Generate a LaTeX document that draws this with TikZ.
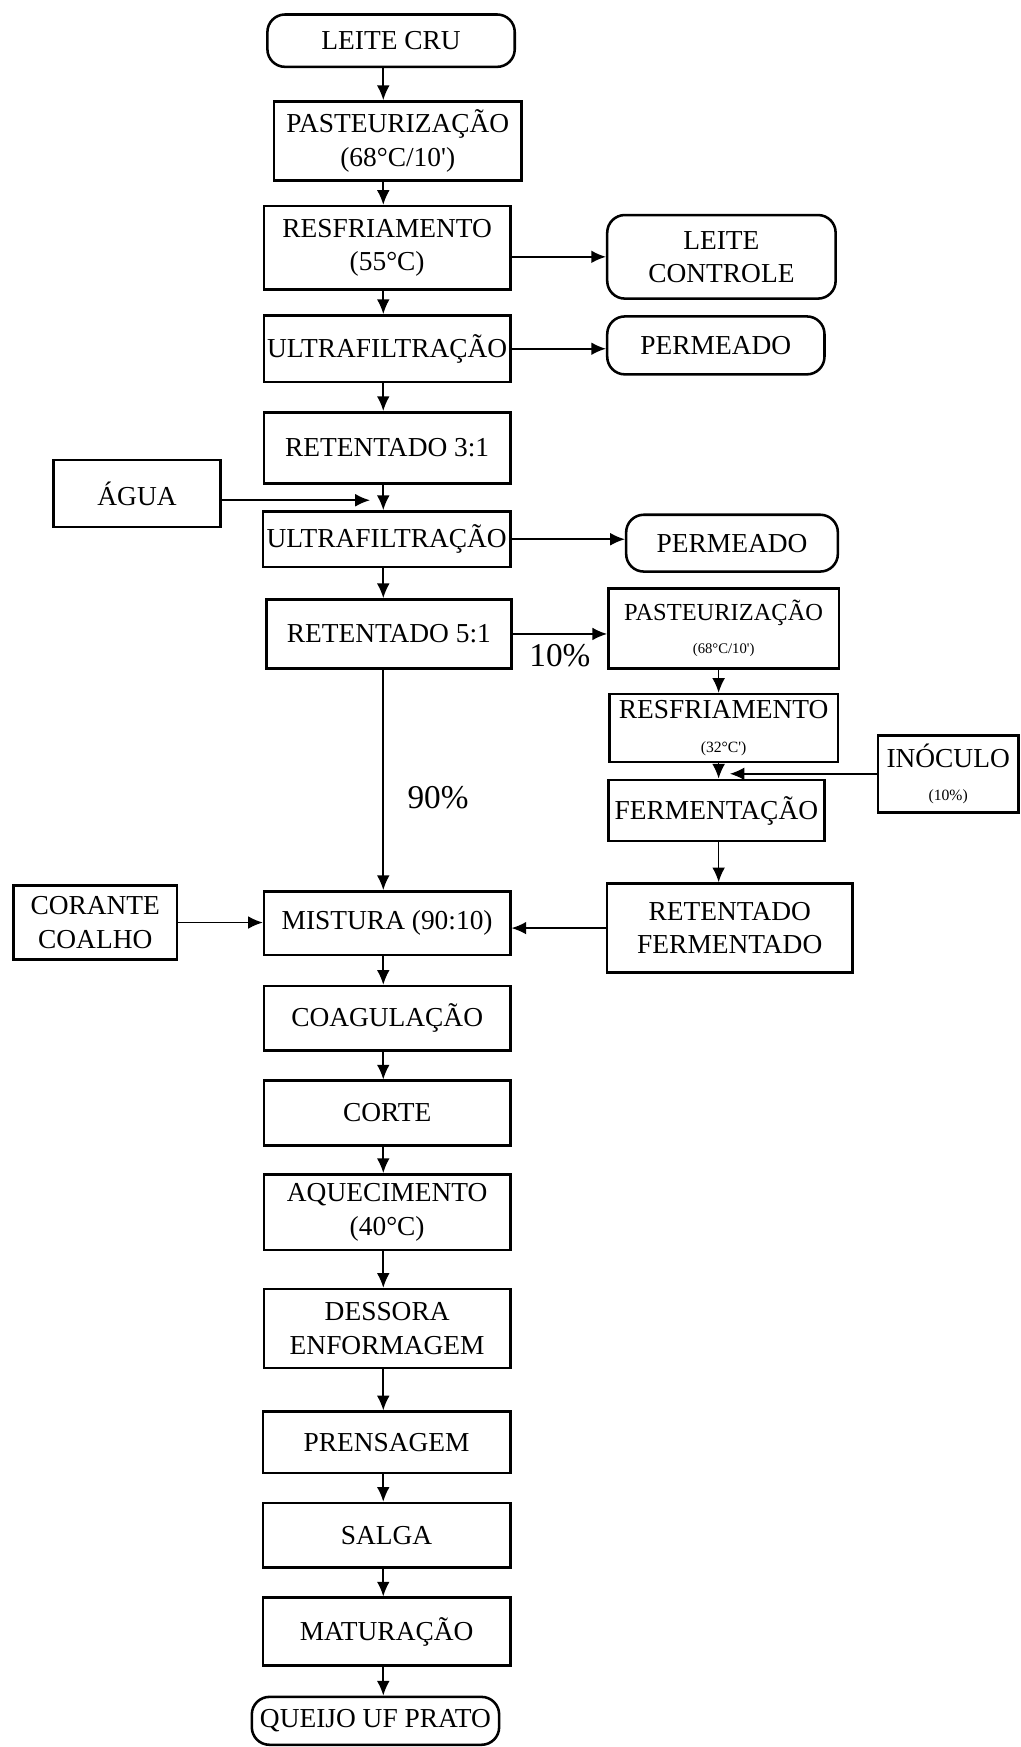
\documentclass[tikz,border=0pt]{standalone}
\usepackage{fontspec}
\setmainfont{Liberation Serif}
\usetikzlibrary{arrows.meta}
\tikzset{
  box/.style={draw, line width=1.3pt, inner sep=0pt, align=center, font=\fontsize{14}{17}\selectfont},
  rbox/.style={box, rounded corners=9pt},
  arr/.style={line width=0.8pt, -{Latex[length=7.5pt,width=6.5pt]}},
  pct/.style={font=\fontsize{17}{20}\selectfont, inner sep=0pt}
}
\newcommand\bx[7][]{\node[box,#1,minimum width={(#5-#3)*0.02cm},minimum height={(#6-#4)*0.02cm}] (#2) at ({(#3+#5)/2},{(#4+#6)/2}) {#7};}
\newcommand\pr{\textquotesingle}
\begin{document}
\begin{tikzpicture}[x=0.02cm,y=-0.02cm]
\useasboundingbox (0,0) rectangle (916,1568);
\coordinate (cm) at (344,0);
\coordinate (cr) at (645,0);
% main column
\bx[rbox]{leite}{240}{13}{462}{60}{LEITE CRU}
\bx{past1}{246}{91}{468}{162}{PASTEURIZAÇÃO\\(68°C/10\pr)}
\bx{resf1}{237}{185}{458}{260}{RESFRIAMENTO\\(55°C)}
\bx[rbox]{ctrl}{545}{193}{750}{268}{LEITE\\CONTROLE}
\bx{uf1}{237}{283}{458}{343}{ULTRAFILTRAÇÃO}
\bx[rbox]{perm1}{545}{284}{740}{336}{PERMEADO}
\bx{ret3}{237}{370}{458}{434}{RETENTADO 3:1}
\bx{agua}{48}{413}{198}{473}{ÁGUA}
\bx{uf2}{236}{459}{458}{509}{ULTRAFILTRAÇÃO}
\bx[rbox]{perm2}{562}{462}{752}{513}{PERMEADO}
\bx{ret5}{239}{538}{459}{600}{RETENTADO 5:1}
\bx{past2}{546}{528}{753}{600}{{\fontsize{12.5}{15}\selectfont PASTEURIZAÇÃO}\\{\fontsize{7.5}{10}\selectfont (68°C/10\pr)}}
\bx{resf2}{547}{623}{752}{684}{RESFRIAMENTO\\{\fontsize{8}{10}\selectfont (32°C\pr)}}
\bx{inoc}{788}{660}{914}{729}{INÓCULO\\{\fontsize{8}{10}\selectfont (10\%)}}
\bx{ferm}{546}{700}{740}{755}{FERMENTAÇÃO}
\bx{retf}{545}{793}{765}{873}{RETENTADO\\FERMENTADO}
\bx{mist}{237}{800}{458}{857}{MISTURA (90:10)}
\bx{cor}{12}{795}{159}{861}{CORANTE\\COALHO}
\bx{coag}{237}{885}{458}{943}{COAGULAÇÃO}
\bx{corte}{237}{970}{458}{1028}{CORTE}
\bx{aquec}{237}{1054}{458}{1122}{AQUECIMENTO\\(40°C)}
\bx{dess}{237}{1157}{458}{1228}{DESSORA\\ENFORMAGEM}
\bx{prens}{236}{1267}{458}{1322}{PRENSAGEM}
\bx{salga}{236}{1349}{458}{1407}{SALGA}
\bx{mat}{236}{1434}{458}{1495}{MATURAÇÃO}
\bx[rbox]{queijo}{226}{1523}{448}{1566}{QUEIJO UF PRATO}
% coordinates for free ends
\coordinate (wa) at (332,449);
\coordinate (ci) at (655,0);
% vertical arrows main
\draw[arr] (leite.south -| cm) -- (past1.north -| cm);
\draw[arr] (past1.south -| cm) -- (resf1.north -| cm);
\draw[arr] (resf1.south -| cm) -- (uf1.north -| cm);
\draw[arr] (uf1.south -| cm) -- (ret3.north -| cm);
\draw[arr] (ret3.south -| cm) -- (uf2.north -| cm);
\draw[arr] (uf2.south -| cm) -- (ret5.north -| cm);
\draw[arr] (ret5.south -| cm) -- node[pct, pos=0.58, right=12pt] {90\%} (mist.north -| cm);
\draw[arr] (mist.south -| cm) -- (coag.north -| cm);
\draw[arr] (coag.south -| cm) -- (corte.north -| cm);
\draw[arr] (corte.south -| cm) -- (aquec.north -| cm);
\draw[arr] (aquec.south -| cm) -- (dess.north -| cm);
\draw[arr] (dess.south -| cm) -- (prens.north -| cm);
\draw[arr] (prens.south -| cm) -- (salga.north -| cm);
\draw[arr] (salga.south -| cm) -- (mat.north -| cm);
\draw[arr] (mat.south -| cm) -- (queijo.north -| cm);
% horizontal arrows
\draw[arr] (resf1.east |- ctrl.west) -- (ctrl.west);
\draw[arr] (uf1.east) -- (uf1.east -| perm1.west);
\draw[arr] (agua.east |- wa) -- (wa);
\draw[arr] (uf2.east) -- (uf2.east -| perm2.west);
\draw[arr] (ret5.east) -- node[pct, below=5pt] {10\%} (ret5.east -| past2.west);
\draw[arr] (cor.east) -- (cor.east -| mist.west);
\draw[arr] (retf.west) -- (retf.west -| mist.east);
% right column
\draw[arr] (past2.south -| cr) -- (resf2.north -| cr);
\draw[arr] (resf2.south -| cr) -- (ferm.north -| cr);
\draw[arr] (inoc.west) -- (inoc.west -| ci);
\draw[arr] (ferm.south -| cr) -- (retf.north -| cr);
\end{tikzpicture}
\end{document}
